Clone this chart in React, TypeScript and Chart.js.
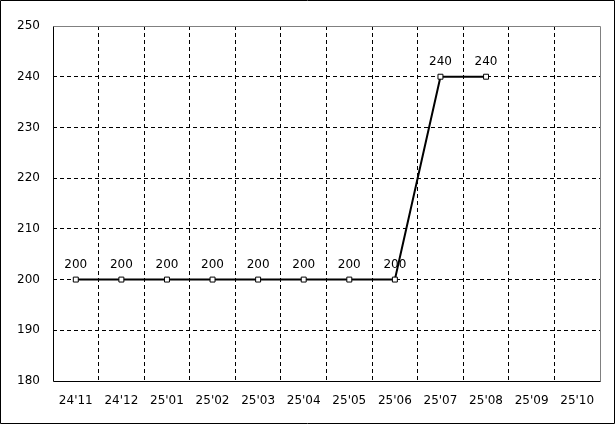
import React, { useEffect, useRef } from "react";
import { Chart, registerables } from "chart.js";

Chart.register(...registerables);

const categories = ["24'11", "24'12", "25'01", "25'02", "25'03", "25'04", "25'05", "25'06", "25'07", "25'08", "25'09", "25'10"];
const values: (number | null)[] = [200, 200, 200, 200, 200, 200, 200, 200, 240, 240, null, null];
const yMin = 180;
const yMax = 250;
const yStep = 10;

const FONT = "'DejaVu Sans', sans-serif";
const CLEAR = "rgba(0,0,0,0)";

const framePlugin = {
  id: "frame",
  afterDatasetsDraw(chart: any) {
    const ctx = chart.ctx;
    const meta = chart.getDatasetMeta(0);
    ctx.save();
    ctx.font = `12px ${FONT}`;
    ctx.fillStyle = "#000";
    ctx.textAlign = "center";
    ctx.textBaseline = "alphabetic";
    meta.data.forEach((pt: any, i: number) => {
      const v = values[i];
      if (v === null || v === undefined) return;
      ctx.fillText(String(v), pt.x, pt.y - 12);
    });
    ctx.restore();
  },
  afterDraw(chart: any) {
    const ctx = chart.ctx;
    const { left, right, top, bottom } = chart.chartArea;
    const L = Math.round(left) + 0.5;
    const R = Math.round(right) + 0.5;
    const T = Math.round(top) + 0.5;
    const B = Math.round(bottom) + 0.5;
    ctx.save();
    ctx.lineWidth = 1;
    ctx.setLineDash([]);
    ctx.strokeStyle = "#808080";
    ctx.beginPath();
    ctx.moveTo(L, T);
    ctx.lineTo(R, T);
    ctx.lineTo(R, B);
    ctx.stroke();
    ctx.strokeStyle = "#000";
    ctx.beginPath();
    ctx.moveTo(L, T);
    ctx.lineTo(L, B);
    ctx.lineTo(R, B);
    ctx.stroke();
    ctx.beginPath();
    ctx.rect(0.5, 0.5, chart.width - 1, chart.height - 1);
    ctx.stroke();
    ctx.restore();
  },
};

export default function App() {
  const ref = useRef<HTMLCanvasElement>(null);

  useEffect(() => {
    if (!ref.current) return;
    const chart = new Chart(ref.current, {
      type: "line",
      data: {
        labels: categories,
        datasets: [
          {
            data: values,
            borderColor: "#000",
            borderWidth: 2,
            pointStyle: "rect",
            pointRadius: 3.5,
            pointBorderWidth: 1,
            pointBorderColor: "#000",
            pointBackgroundColor: "#fff",
            tension: 0,
            spanGaps: false,
          },
        ],
      },
      options: {
        animation: false,
        responsive: false,
        events: [],
        layout: { padding: { top: 26, right: 15, left: 0, bottom: 0 } },
        plugins: {
          legend: { display: false },
          tooltip: { enabled: false },
          title: { display: false },
        },
        scales: {
          x: {
            offset: true,
            afterFit: (s: any) => {
              s.height = 43;
            },
            grid: {
              offset: true,
              drawTicks: false,
              lineWidth: 1,
              color: (c: any) => (c.type !== "tick" || c.index === 0 ? CLEAR : "#000"),
            },
            border: { display: false, dash: [4, 3] },
            ticks: {
              padding: 13,
              color: "#000",
              font: { family: FONT, size: 12 },
              maxRotation: 0,
              autoSkip: false,
            },
          },
          y: {
            min: yMin,
            max: yMax,
            afterFit: (s: any) => {
              s.width = 53;
            },
            grid: {
              drawTicks: false,
              lineWidth: 1,
              color: (c: any) =>
                c.type !== "tick" || c.tick.value === yMin || c.tick.value === yMax ? CLEAR : "#000",
            },
            border: { display: false, dash: [4, 3] },
            ticks: {
              stepSize: yStep,
              padding: 13,
              color: "#000",
              font: { family: FONT, size: 12 },
            },
          },
        },
      },
      plugins: [framePlugin],
    });
    return () => chart.destroy();
  }, []);

  return (
    <div style={{ position: "fixed", left: 0, top: 0, width: 615, height: 424, background: "#fff" }}>
      <canvas ref={ref} width={615} height={424} style={{ display: "block" }} />
    </div>
  );
}
